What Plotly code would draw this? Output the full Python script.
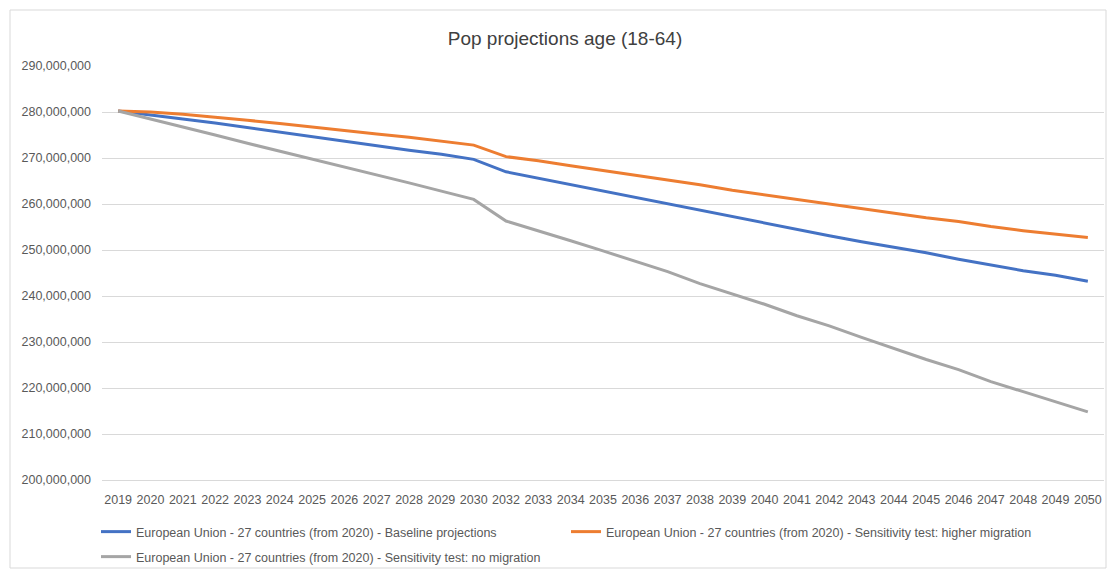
import plotly.graph_objects as go

years = ["2019", "2020", "2021", "2022", "2023", "2024", "2025", "2026", "2027", "2028",
         "2029", "2030", "2032", "2033", "2034", "2035", "2036", "2037", "2038", "2039",
         "2040", "2041", "2042", "2043", "2044", "2045", "2046", "2047", "2048", "2049", "2050"]

baseline_m = [280.2, 279.4, 278.5, 277.6, 276.6, 275.7, 274.7, 273.7, 272.7, 271.7,
              270.8, 269.7, 267.0, 265.6, 264.2, 262.9, 261.5, 260.1, 258.6, 257.3,
              255.8, 254.5, 253.1, 251.8, 250.6, 249.4, 248.0, 246.8, 245.5, 244.5, 243.2]

higher_m = [280.2, 280.0, 279.5, 278.9, 278.2, 277.5, 276.7, 275.9, 275.2, 274.5,
            273.7, 272.8, 270.3, 269.4, 268.3, 267.3, 266.2, 265.2, 264.2, 263.0,
            262.0, 261.0, 260.0, 259.0, 258.0, 257.0, 256.2, 255.1, 254.2, 253.4, 252.7]

nomig_m = [280.2, 278.5, 276.7, 275.0, 273.2, 271.5, 269.8, 268.0, 266.3, 264.6,
           262.8, 261.0, 256.3, 254.2, 252.0, 249.8, 247.6, 245.3, 242.7, 240.4,
           238.2, 235.7, 233.5, 231.0, 228.6, 226.2, 224.0, 221.4, 219.2, 217.0, 214.8]

series_names = [
    "European Union - 27 countries (from 2020) - Baseline projections",
    "European Union - 27 countries (from 2020) - Sensitivity test: higher migration",
    "European Union - 27 countries (from 2020) - Sensitivity test: no migration",
]
series_values = [baseline_m, higher_m, nomig_m]
series_colors = ["#4472C4", "#ED7D31", "#A5A5A5"]
series_legends = ["legend", "legend", "legend2"]

W, H = 1109, 570
ML, MR, MT, MB = 102, 5, 66, 90
PW, PH = W - ML - MR, H - MT - MB

fig = go.Figure()
for name, vals, col, lg in zip(series_names, series_values, series_colors, series_legends):
    fig.add_trace(go.Scatter(
        x=years, y=[v * 1e6 for v in vals], name=name, mode="lines",
        line=dict(color=col, width=3), legend=lg,
    ))

def px_x(p):
    return (p - ML) / PW

def px_y(p):
    return (H - MB - p) / PH

legend_font = dict(size=12.5, color="#595959")

fig.update_layout(
    width=W, height=H,
    margin=dict(l=ML, r=MR, t=MT, b=MB, autoexpand=False),
    paper_bgcolor="white", plot_bgcolor="white",
    font=dict(family="Liberation Sans, Arial, sans-serif", size=12, color="#595959"),
    title=dict(text="Pop projections age (18-64)", x=565 / W, xref="container", xanchor="center",
               y=1 - 38 / H, yref="container", yanchor="middle",
               font=dict(size=19, color="#404040")),
    xaxis=dict(type="category", showgrid=False, showline=True, linecolor="#d9d9d9",
               linewidth=1, ticks="", tickfont=dict(size=12.5, color="#595959"),
               ticklabelstandoff=8,
               range=[-0.5, len(years) - 0.5], fixedrange=True),
    yaxis=dict(range=[200e6, 290e6], dtick=10e6, tickformat=",", showgrid=True,
               gridcolor="#d9d9d9", gridwidth=1, zeroline=False, showline=False,
               ticklabelstandoff=10, tickfont=dict(size=12.5, color="#595959")),
    legend=dict(orientation="h", x=px_x(96), xanchor="left", y=px_y(517), yanchor="top",
                entrywidth=425, entrywidthmode="pixels", font=legend_font,
                tracegroupgap=0, itemwidth=30, bgcolor="rgba(0,0,0,0)"),
    legend2=dict(orientation="h", x=px_x(96), xanchor="left", y=px_y(542), yanchor="top",
                 font=legend_font, itemwidth=30, bgcolor="rgba(0,0,0,0)"),
    showlegend=True,
    shapes=[dict(type="rect", xref="paper", yref="paper",
                 x0=px_x(10), x1=px_x(1106), y0=px_y(568), y1=px_y(10),
                 line=dict(color="#d9d9d9", width=1), fillcolor="rgba(0,0,0,0)", layer="below")],
)

fig.write_html("out.html", config={"displayModeBar": False},
               post_script="document.body.style.margin='0';")
